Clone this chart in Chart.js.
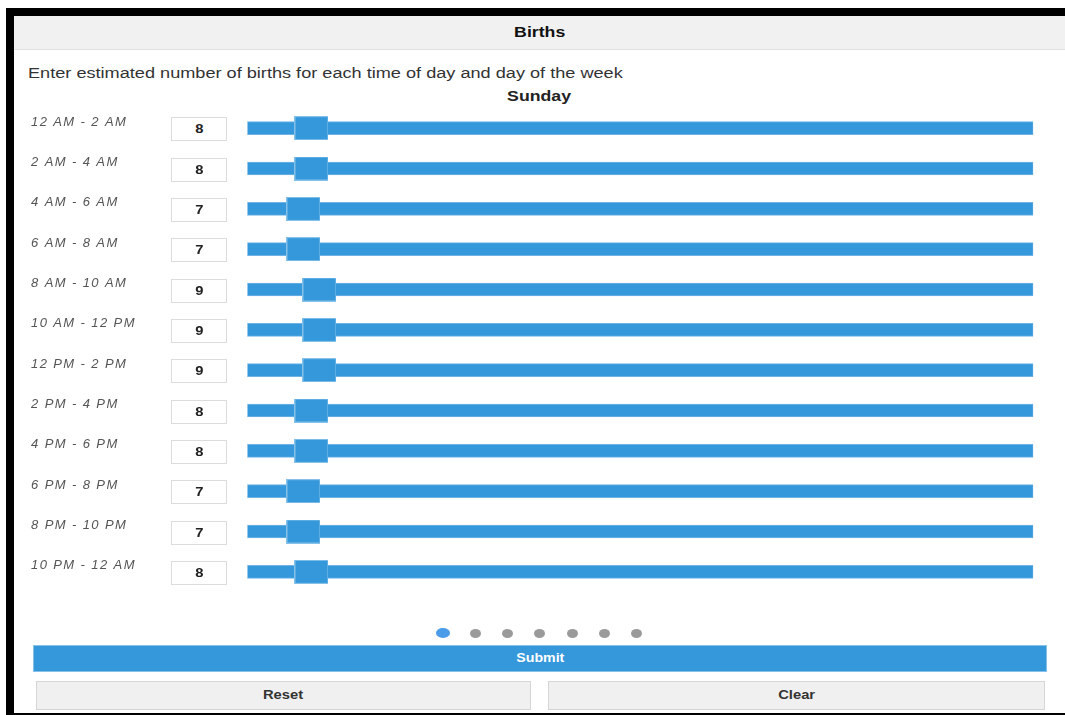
<!DOCTYPE html>
<html>
<head>
<meta charset="utf-8">
<script src="https://cdn.jsdelivr.net/npm/chart.js@4"></script>
<style>
  html, body { margin:0; padding:0; background:#fff; width:1065px; height:715px; overflow:hidden;
    font-family:"Liberation Sans", Arial, sans-serif; color:#333; }
  .abs { position:absolute; }
  .sx { display:inline-block; transform:scaleX(1.18); transform-origin:center; }
  .sxl { display:inline-block; transform:scaleX(1.17); transform-origin:left; }
  #bTop { left:6px; top:8px; width:1059px; height:8px; background:#000; }
  #bLeft { left:6px; top:8px; width:8px; height:707px; background:#000; }
  #bBot { left:6px; top:713px; width:1059px; height:2px; background:#000; }
  #header { left:14px; top:16px; width:1051px; height:33px; background:#f1f1f1; border-bottom:1px solid #e2e2e2;
    text-align:center; line-height:32px; font-weight:bold; font-size:15px; color:#111; }
  #intro { left:28px; top:64px; font-size:15.5px; color:#333; white-space:nowrap; }
  #day { left:14px; top:87px; width:1051px; text-align:center; font-weight:bold; font-size:15px; color:#222; }
  #chartWrap { left:14px; top:103px; width:1051px; height:494px; }
  .inp { width:54px; height:22px; border:1px solid #dcdcdc; background:#fff; text-align:center;
    line-height:22px; font-weight:bold; font-size:12.5px; color:#222; }
  .dot { width:11px; height:9px; border-radius:50%; background:#9a9a9a; top:629px; }
  .dot.on { width:14px; height:10px; background:#4a9be8; }
  #submit { left:33px; top:645px; width:1012px; height:25px; background:#3498db; border:1px solid #86c1ea;
    color:#fff; font-weight:bold; font-size:12px; text-align:center; line-height:25px; }
  .btn { top:681px; height:27px; background:#f0f0f0; border:1px solid #d6d6d6; color:#333;
    font-weight:bold; font-size:12.5px; text-align:center; line-height:27px; }
</style>
</head>
<body>
<div id="bTop" class="abs"></div>
<div id="bLeft" class="abs"></div>
<div id="bBot" class="abs"></div>
<div id="header" class="abs"><span class="sx">Births</span></div>
<div id="intro" class="abs"><span class="sxl">Enter estimated number of births for each time of day and day of the week</span></div>
<div id="day" class="abs"><span class="sx">Sunday</span></div>
<div id="chartWrap" class="abs"><canvas id="c" width="1051" height="494"></canvas></div>
<div id="inputs"></div>
<div id="dots"></div>
<div id="submit" class="abs"><span class="sx">Submit</span></div>
<div class="abs btn" style="left:36px;width:493px;"><span class="sx">Reset</span></div>
<div class="abs btn" style="left:548px;width:495px;"><span class="sx">Clear</span></div>
<script>
const timeSlots = ["12 AM - 2 AM","2 AM - 4 AM","4 AM - 6 AM","6 AM - 8 AM","8 AM - 10 AM","10 AM - 12 PM",
  "12 PM - 2 PM","2 PM - 4 PM","4 PM - 6 PM","6 PM - 8 PM","8 PM - 10 PM","10 PM - 12 AM"];
const births = [8, 8, 7, 7, 9, 9, 9, 8, 8, 7, 7, 8];
const sliderMin = 0;
const sliderMax = 98;
const dayNames = ["Sunday","Monday","Tuesday","Wednesday","Thursday","Friday","Saturday"];
const canvasTop = 103;

// thumb image
const thumb = document.createElement('canvas');
thumb.width = 34; thumb.height = 24;
(function(){
  const g = thumb.getContext('2d');
  g.fillStyle = '#3498db';
  g.fillRect(0,0,34,24);
  g.strokeStyle = '#86c1ea';
  g.lineWidth = 1;
  g.strokeRect(0.5,0.5,33,23);
})();

const spacingPlugin = {
  id: 'spacing',
  beforeInit(chart) { chart.ctx.letterSpacing = '1.4px'; },
  beforeUpdate(chart) { chart.ctx.letterSpacing = '1.4px'; },
  beforeDraw(chart) { chart.ctx.letterSpacing = '1.4px'; }
};

const chart = new Chart(document.getElementById('c'), {
  type: 'bar',
  plugins: [spacingPlugin],
  data: {
    labels: timeSlots,
    datasets: [
      {
        type: 'line',
        data: births,
        showLine: false,
        pointStyle: thumb,
        order: 1,
        clip: false
      },
      {
        type: 'bar',
        data: timeSlots.map(() => [sliderMin, sliderMax]),
        backgroundColor: '#3498db',
        borderColor: '#6fb3e6',
        borderWidth: 1,
        borderSkipped: false,
        barThickness: 13,
        order: 2
      }
    ]
  },
  options: {
    indexAxis: 'y',
    responsive: false,
    animation: false,
    events: [],
    layout: { padding: { left: 17, right: 31.7, top: 0, bottom: 0 } },
    plugins: { legend: { display: false }, tooltip: { enabled: false } },
    scales: {
      x: { type: 'linear', min: sliderMin, max: sliderMax, display: false },
      y: {
        type: 'category',
        offset: true,
        grid: { display: false, drawTicks: false },
        border: { display: false },
        ticks: {
          crossAlign: 'far',
          labelOffset: -6,
          color: '#555',
          font: { family: '"Liberation Sans", Arial, sans-serif', size: 13, style: 'italic' },
          padding: 0
        },
        afterFit(scale) { scale.width = 216.3; scale.paddingTop = 0; scale.paddingBottom = 0; }
      }
    }
  }
});

// inputs positioned from the chart's own y scale
const ys = chart.scales.y;
const inputsDiv = document.getElementById('inputs');
births.forEach((v, i) => {
  const cy = canvasTop + ys.getPixelForValue(i);
  const d = document.createElement('div');
  d.className = 'abs inp';
  d.style.left = '171px';
  d.style.top = (cy - 11) + 'px';
  d.innerHTML = '<span class="sx">' + v + '</span>';
  inputsDiv.appendChild(d);
});

// page dots
const dotsDiv = document.getElementById('dots');
dayNames.forEach((n, i) => {
  const d = document.createElement('div');
  d.className = 'abs dot' + (i === 0 ? ' on' : '');
  const cx = 443 + i * 32.3;
  const w = i === 0 ? 14 : 11;
  d.style.left = (cx - w/2) + 'px';
  if (i === 0) d.style.top = '628px';
  d.title = n;
  dotsDiv.appendChild(d);
});
</script>
</body>
</html>
